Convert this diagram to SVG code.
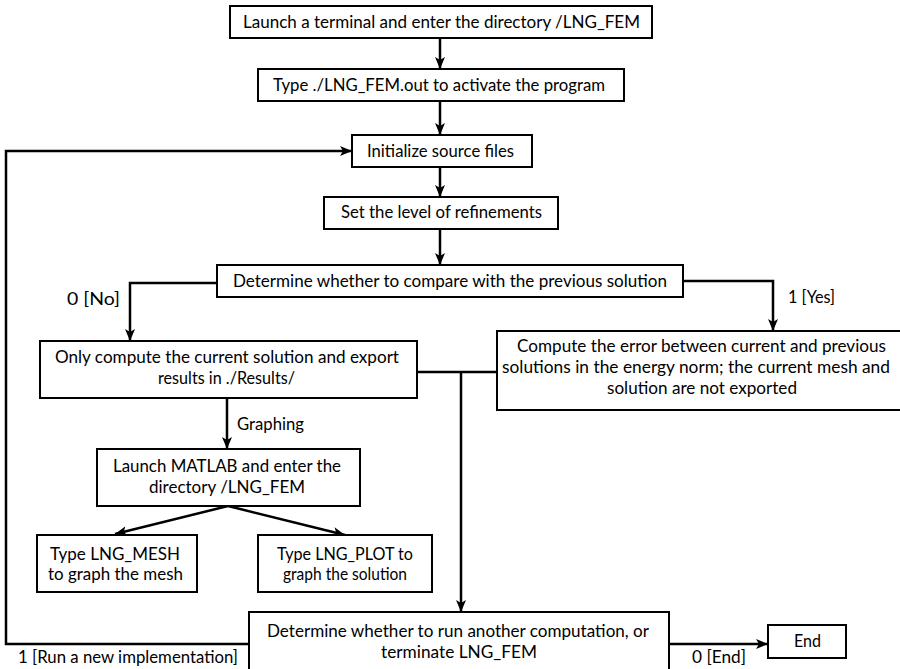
<svg xmlns="http://www.w3.org/2000/svg" width="900" height="669" viewBox="0 0 900 669">
<defs>
<marker id="ah" viewBox="0 0 12 10" refX="12" refY="5" markerWidth="12" markerHeight="10" markerUnits="userSpaceOnUse" orient="auto">
<path d="M0,0 L12,5 L0,10 L3,5 z" fill="#000"/>
</marker>
<style>
.box{fill:#fff;stroke:#000;stroke-width:2}
.t{font-family:Lato,"Open Sans","DejaVu Sans",sans-serif;font-size:17.5px;fill:#000}
.c{fill:none;stroke:#000;stroke-width:2.5}
.a{marker-end:url(#ah)}
</style>
</defs>
<rect width="900" height="669" fill="#fff"/>
<g id="connectors">
<path class="c a" d="M440,38 V69"/>
<path class="c a" d="M440,101 V135"/>
<path class="c a" d="M440,167 V197"/>
<path class="c a" d="M440,229 V265"/>
<path class="c a" d="M217,283 H130 V341"/>
<path class="c a" d="M683,281 H773 V331"/>
<path class="c" d="M417,372 H497"/>
<path class="c a" d="M461,372 V612"/>
<path class="c a" d="M227,398 V449"/>
<path class="c a" d="M228,506 L115,534"/>
<path class="c a" d="M228,506 L345,535"/>
<path class="c a" d="M249,644 H6 V151 H352"/>
<path class="c a" d="M669,644 H768"/>
<text class="t" x="67" y="305" textLength="53" lengthAdjust="spacingAndGlyphs">0 [No]</text>
<text class="t" x="788" y="303" textLength="47" lengthAdjust="spacingAndGlyphs">1 [Yes]</text>
<text class="t" x="237" y="430" textLength="67" lengthAdjust="spacingAndGlyphs">Graphing</text>
<text class="t" x="18" y="663" textLength="220" lengthAdjust="spacingAndGlyphs">1 [Run a new implementation]</text>
<text class="t" x="692" y="663" textLength="54" lengthAdjust="spacingAndGlyphs">0 [End]</text>
</g>
<g id="n1">
<rect class="box" x="230" y="6" width="422" height="32"/>
<text class="t" x="243" y="28" textLength="397" lengthAdjust="spacingAndGlyphs">Launch a terminal and enter the directory /LNG_FEM</text>
</g>
<g id="n2">
<rect class="box" x="258" y="69" width="366" height="32"/>
<text class="t" x="273" y="91" textLength="332" lengthAdjust="spacingAndGlyphs">Type ./LNG_FEM.out to activate the program</text>
</g>
<g id="n3">
<rect class="box" x="352" y="135" width="180" height="32"/>
<text class="t" x="367" y="157" textLength="147" lengthAdjust="spacingAndGlyphs">Initialize source files</text>
</g>
<g id="n4">
<rect class="box" x="324" y="197" width="234" height="32"/>
<text class="t" x="341" y="218" textLength="201" lengthAdjust="spacingAndGlyphs">Set the level of refinements</text>
</g>
<g id="n5">
<rect class="box" x="217" y="265" width="466" height="32"/>
<text class="t" x="233" y="287" textLength="434" lengthAdjust="spacingAndGlyphs">Determine whether to compare with the previous solution</text>
</g>
<g id="n6">
<rect class="box" x="40" y="341" width="377" height="57"/>
<text class="t" x="55" y="363" textLength="344" lengthAdjust="spacingAndGlyphs">Only compute the current solution and export</text>
<text class="t" x="158" y="384" textLength="137" lengthAdjust="spacingAndGlyphs">results in ./Results/</text>
</g>
<g id="n7">
<rect class="box" x="497" y="331" width="413" height="79"/>
<text class="t" x="517" y="352" textLength="369" lengthAdjust="spacingAndGlyphs">Compute the error between current and previous</text>
<text class="t" x="502" y="373" textLength="388" lengthAdjust="spacingAndGlyphs">solutions in the energy norm; the current mesh and</text>
<text class="t" x="607" y="394" textLength="190" lengthAdjust="spacingAndGlyphs">solution are not exported</text>
</g>
<g id="n8">
<rect class="box" x="97" y="449" width="263" height="57"/>
<text class="t" x="113" y="472" textLength="228" lengthAdjust="spacingAndGlyphs">Launch MATLAB and enter the</text>
<text class="t" x="149" y="493" textLength="156" lengthAdjust="spacingAndGlyphs">directory /LNG_FEM</text>
</g>
<g id="n10">
<rect class="box" x="37" y="535" width="160" height="57"/>
<text class="t" x="50" y="560" textLength="130" lengthAdjust="spacingAndGlyphs">Type LNG_MESH</text>
<text class="t" x="48" y="580" textLength="135" lengthAdjust="spacingAndGlyphs">to graph the mesh</text>
</g>
<g id="n11">
<rect class="box" x="258" y="535" width="174" height="57"/>
<text class="t" x="277" y="560" textLength="136" lengthAdjust="spacingAndGlyphs">Type LNG_PLOT to</text>
<text class="t" x="283" y="580" textLength="124" lengthAdjust="spacingAndGlyphs">graph the solution</text>
</g>
<g id="n9">
<rect class="box" x="249" y="612" width="420" height="70"/>
<text class="t" x="267" y="637" textLength="382" lengthAdjust="spacingAndGlyphs">Determine whether to run another computation, or</text>
<text class="t" x="381" y="658" textLength="156" lengthAdjust="spacingAndGlyphs">terminate LNG_FEM</text>
</g>
<g id="n12">
<rect class="box" x="768" y="625" width="78" height="33"/>
<text class="t" x="794" y="647" textLength="27" lengthAdjust="spacingAndGlyphs">End</text>
</g>
</svg>
